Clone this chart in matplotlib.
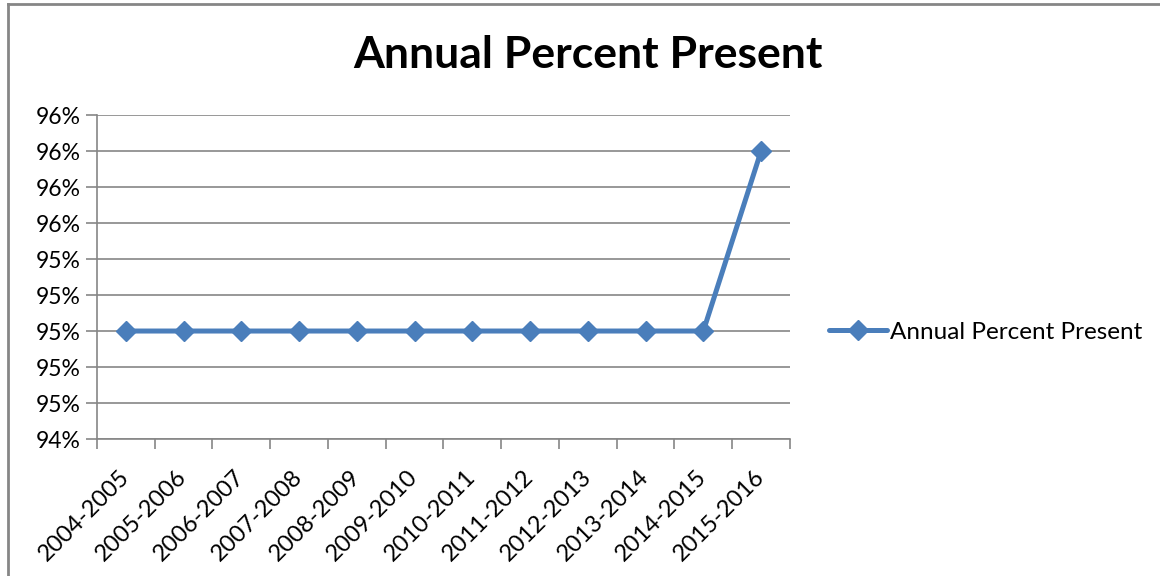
import matplotlib.pyplot as plt
from matplotlib.lines import Line2D
from matplotlib.ticker import FuncFormatter, FixedLocator

# Chart data
seasons = ['2004-2005', '2005-2006', '2006-2007', '2007-2008', '2008-2009', '2009-2010',
           '2010-2011', '2011-2012', '2012-2013', '2013-2014', '2014-2015', '2015-2016']
percent_present = [0.950, 0.950, 0.950, 0.950, 0.950, 0.950,
                   0.950, 0.950, 0.950, 0.950, 0.950, 0.960]
y_ticks = [0.944, 0.946, 0.948, 0.950, 0.952, 0.954, 0.956, 0.958, 0.960, 0.962]

plt.rcParams['font.family'] = ['Lato', 'DejaVu Sans']

blue = '#4A7EBB'
grey = '#868686'

fig = plt.figure(figsize=(11.6, 5.76), dpi=100)
ax = fig.add_axes([0.0836, 0.2378, 0.5974, 0.5625])

x = list(range(len(seasons)))
ax.plot(x, percent_present, color=blue, lw=3.6, marker='D', markersize=10.5,
        label='Annual Percent Present', solid_capstyle='round')

ax.set_xlim(-0.5, len(seasons) - 0.5)
ax.set_ylim(y_ticks[0], y_ticks[-1])
ax.set_yticks(y_ticks)
ax.yaxis.set_major_formatter(FuncFormatter(lambda v, p: f'{v * 100:.0f}%'))
ax.grid(axis='y', color=grey, lw=1.2)
ax.set_axisbelow(True)

# category boundaries get tick marks, centers get labels
ax.xaxis.set_major_locator(FixedLocator([i - 0.5 for i in range(len(seasons) + 1)]))
ax.xaxis.set_minor_locator(FixedLocator(x))
ax.set_xticklabels([], minor=False)
ax.set_xticklabels(seasons, minor=True, rotation=45, ha='right', va='center',
                   rotation_mode='anchor', fontsize=17)
ax.tick_params(axis='x', which='minor', length=0, pad=25)
ax.tick_params(axis='x', which='major', length=7, color=grey, width=1.2)
ax.tick_params(axis='y', length=8, color=grey, width=1.2, labelsize=16.5, pad=4)

for s in ['top', 'right']:
    ax.spines[s].set_visible(False)
for s in ['left', 'bottom']:
    ax.spines[s].set_color(grey)
    ax.spines[s].set_linewidth(1.2)

fig.text(0.507, 0.905, 'Annual Percent Present', ha='center', va='center',
         fontsize=32, fontweight='bold')

ax.legend(loc='center left', bbox_to_anchor=(1.042, 0.33), frameon=False,
          fontsize=17.5, handlelength=2.4, handletextpad=0.1, borderaxespad=0)

# chart frame: only top and left edges are visible in the crop
fig.lines.append(Line2D([0.0069, 0.0069], [0.0, 0.9935], transform=fig.transFigure,
                        color=grey, lw=2))
fig.lines.append(Line2D([0.0069, 1.0], [0.9935, 0.9935], transform=fig.transFigure,
                        color=grey, lw=2))

fig.savefig('out.png', dpi=100)
